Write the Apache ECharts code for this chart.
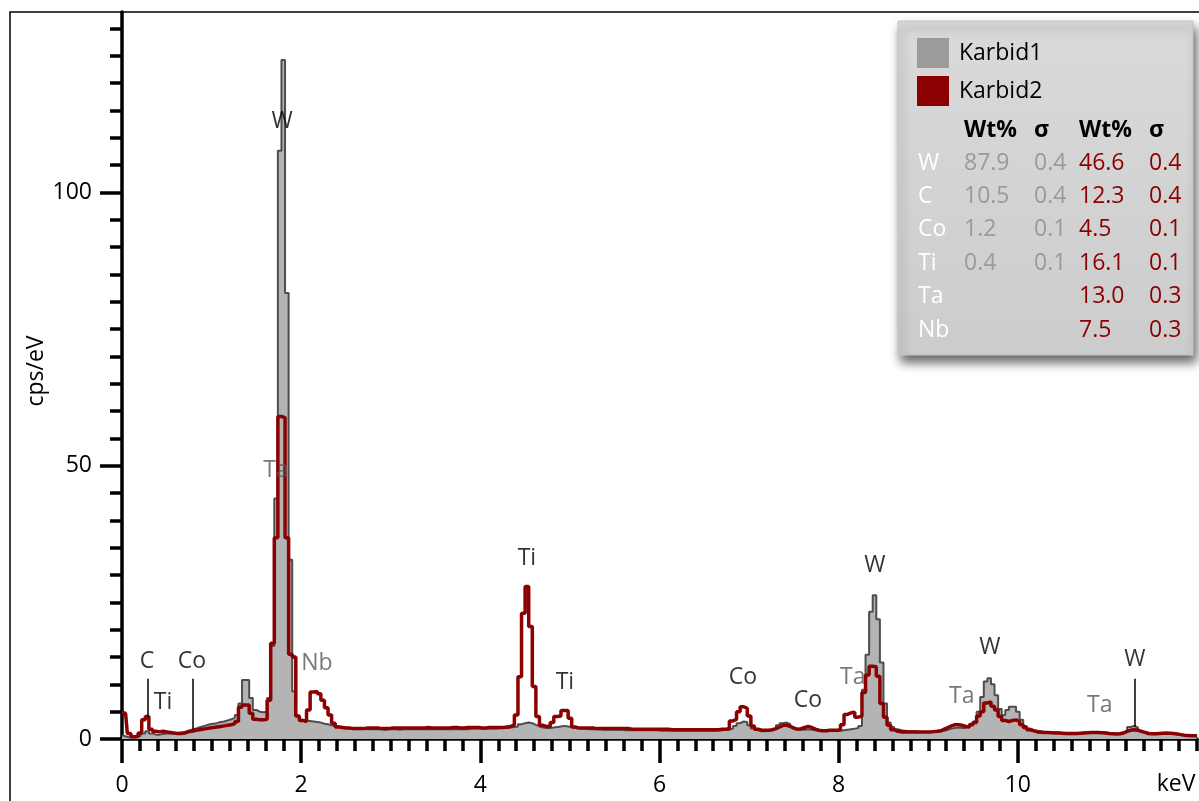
<!DOCTYPE html>
<html><head><meta charset="utf-8">
<script src="https://cdn.jsdelivr.net/npm/echarts@6/dist/echarts.min.js"></script>
<style>html,body{margin:0;padding:0;background:#fff}#c{width:1199px;height:801px}</style>
</head><body><div id="c"></div>
<script>
// EDS spectra, one value per 0.04 keV channel (0.00 ... 12.00 keV), cps/eV
const karbid1 = [
0.7,0.5,0.3,0.3,0.3,0.5,1.0,1.4,1.0,0.8,
0.8,0.9,1.0,1.0,1.0,1.1,1.2,1.3,1.5,1.7,
1.9,2.1,2.3,2.5,2.7,2.8,2.9,3.1,3.2,3.4,
3.6,3.9,4.4,6.5,10.8,10.8,7.5,5.3,5.0,4.9,
5.0,7.5,17.0,44.0,107.6,124.2,81.6,32.8,8.7,4.1,
3.5,3.4,3.3,3.2,3.1,3.0,2.8,2.7,2.5,2.4,
2.3,2.2,2.1,2.0,2.0,1.9,1.9,1.9,1.8,1.8,
1.8,1.8,1.8,1.7,1.8,1.8,1.8,1.7,1.8,1.8,
1.8,1.8,1.8,1.8,1.8,1.8,1.8,1.8,1.8,1.8,
1.8,1.8,1.8,1.8,1.8,1.8,1.8,1.9,1.9,1.9,
1.9,1.9,1.9,1.9,1.9,2.0,2.0,2.0,2.1,2.2,
2.3,2.7,2.9,3.0,2.9,2.6,2.3,2.1,2.0,2.0,
2.1,2.2,2.3,2.4,2.3,2.2,2.0,2.0,1.9,1.9,
1.8,1.8,1.8,1.8,1.7,1.7,1.7,1.7,1.7,1.7,
1.6,1.6,1.6,1.6,1.6,1.6,1.6,1.6,1.6,1.6,
1.5,1.5,1.5,1.5,1.5,1.5,1.5,1.5,1.5,1.5,
1.5,1.5,1.5,1.5,1.5,1.5,1.6,1.6,1.7,1.7,
1.9,2.4,2.9,3.2,3.1,2.5,1.9,1.6,1.4,1.4,
1.5,1.7,2.0,2.5,2.9,3.0,2.7,2.2,1.8,1.7,
1.7,1.8,1.7,1.6,1.5,1.5,1.5,1.5,1.5,1.5,
1.5,1.6,1.7,1.8,1.9,2.0,2.4,9.0,15.4,23.3,
26.3,21.9,14.0,6.5,3.0,2.2,1.8,1.6,1.5,1.4,
1.4,1.4,1.3,1.3,1.3,1.3,1.3,1.4,1.4,1.5,
1.7,1.9,2.0,2.1,2.0,2.0,2.4,2.8,3.2,5.0,
7.7,10.5,11.1,10.0,8.0,5.5,4.4,5.3,5.9,5.9,
5.0,3.5,2.4,1.9,1.6,1.5,1.4,1.3,1.3,1.2,
1.2,1.2,1.1,1.1,1.1,1.1,1.1,1.1,1.2,1.2,
1.2,1.3,1.3,1.2,1.2,1.1,1.0,1.0,1.0,1.2,
1.5,2.2,2.4,2.1,1.5,1.2,1.1,1.0,1.0,1.0,
1.1,1.1,1.1,1.0,0.9,0.8,0.7,0.7,0.6,0.6,
0.6
];
const karbid2 = [
4.9,4.7,1.0,0.4,0.5,1.1,3.5,4.1,1.8,1.4,
1.3,1.4,1.3,1.2,1.1,1.0,1.0,1.1,1.3,1.4,
1.6,1.7,1.8,1.9,2.0,2.1,2.2,2.3,2.4,2.5,
2.6,2.8,3.2,5.8,6.2,6.2,4.7,3.6,3.5,3.5,
3.6,7.1,17.5,36.8,59.0,58.8,36.8,15.5,15.0,4.2,
3.4,3.2,5.3,8.6,8.7,8.3,7.1,5.7,4.4,2.9,
2.2,2.1,2.0,2.0,1.9,1.9,1.9,1.9,2.0,2.0,
2.0,2.0,1.9,1.9,1.9,2.0,2.0,2.0,2.0,2.0,
2.0,2.0,2.0,2.0,2.0,2.1,2.0,2.0,2.0,2.0,
2.0,2.0,2.1,2.1,2.0,2.0,2.1,2.1,2.1,2.1,
2.0,2.0,2.1,2.1,2.1,2.1,2.1,2.2,2.3,2.6,
4.4,11.4,23.0,27.9,20.6,9.6,4.1,2.5,2.3,2.3,
3.0,4.1,4.2,5.2,5.2,3.8,2.2,2.0,2.0,2.0,
2.0,2.0,1.9,1.9,1.9,1.9,1.9,1.9,1.9,1.9,
1.9,1.9,1.8,1.8,1.8,1.8,1.8,1.8,1.8,1.8,
1.8,1.8,1.8,1.7,1.7,1.7,1.7,1.7,1.7,1.7,
1.7,1.7,1.7,1.7,1.7,1.7,1.7,1.8,1.8,1.9,
3.3,3.6,5.0,5.9,5.6,4.2,2.4,1.8,1.6,1.6,
1.6,1.7,1.9,2.2,2.5,2.5,2.3,2.0,1.8,1.9,
2.1,2.3,2.1,1.8,1.6,1.5,1.5,1.6,1.6,1.6,
1.7,2.6,4.5,4.8,4.9,4.0,4.2,8.5,11.7,13.3,
13.2,11.5,6.5,4.0,2.5,1.7,1.4,1.3,1.3,1.3,
1.3,1.3,1.3,1.3,1.3,1.3,1.35,1.4,1.5,1.8,
2.1,2.4,2.6,2.6,2.5,2.3,2.2,2.6,3.0,4.2,
5.0,6.6,6.8,6.0,5.3,4.1,3.4,3.2,3.4,3.5,
3.2,2.6,2.1,1.7,1.5,1.3,1.25,1.2,1.2,1.15,
1.1,1.1,1.05,1.0,1.0,1.0,1.0,1.05,1.1,1.15,
1.2,1.2,1.2,1.15,1.1,1.0,0.95,0.9,0.95,1.1,
1.4,1.6,1.7,1.6,1.4,1.2,1.0,0.95,0.95,1.0,
1.05,1.1,1.05,1.0,0.9,0.8,0.7,0.65,0.6,0.6,
0.55
];
const channelStep = 0.04;               // keV per channel
const xMajorTicks = [0, 2, 4, 6, 8, 10];
const yMajorTicks = [0, 50, 100];
const xMinorStep = 0.2, xMax = 12;
const yMinorStep = 5, yMinorTop = 130, yMax = 133;

// quantification table
const elements = ['W', 'C', 'Co', 'Ti', 'Ta', 'Nb'];
const wt1  = ['87.9', '10.5', '1.2', '0.4', '', ''];
const sig1 = ['0.4', '0.4', '0.1', '0.1', '', ''];
const wt2  = ['46.6', '12.3', '4.5', '16.1', '13.0', '7.5'];
const sig2 = ['0.4', '0.4', '0.1', '0.1', '0.3', '0.3'];

// peak annotations: [label, energy keV, height cps/eV, kind]
const peakLabels = [
  ['W', 1.786, 112.9, 'main'], ['Ta', 1.719, 49.2, 'other'], ['Nb', 2.176, 13.9, 'other'],
  ['C', 0.279, 14.1, 'main'], ['Ti', 0.458, 6.6, 'main'], ['Co', 0.781, 14.1, 'main'],
  ['Ti', 4.52, 33.1, 'main'], ['Ti', 4.944, 10.4, 'main'], ['Co', 6.93, 11.2, 'main'],
  ['Co', 7.656, 7.1, 'main'], ['Ta', 8.158, 11.3, 'other'], ['W', 8.404, 31.8, 'main'],
  ['Ta', 9.375, 7.7, 'other'], ['W', 9.688, 16.7, 'main'], ['Ta', 10.915, 6.2, 'other'],
  ['W', 11.306, 14.5, 'main']
];
// marker sticks: [energy keV, bottom, top]
const peakSticks = [[0.282, 4.0, 11.0], [0.785, 1.8, 11.0], [11.306, 2.2, 11.0]];

const FONT = '"Open Sans", "Noto Sans", sans-serif';
const FS = 23;
const energies = karbid1.map((_, i) => +(i * channelStep).toFixed(2));
const xMinor = Array.from({length: Math.round(xMax / xMinorStep) + 1}, (_, i) => +(i * xMinorStep).toFixed(1));
const yMinor = Array.from({length: yMinorTop / yMinorStep + 1}, (_, i) => i * yMinorStep);

const chart = echarts.init(document.getElementById('c'), null, {renderer: 'canvas'});

const tickStyle = {color: '#000', width: 3.5};
const graphics = [];
graphics.push({type: 'rect', z: 0, silent: true,
  shape: {x: 10, y: 12, width: 1400, height: 1000},
  style: {fill: 'none', stroke: '#000', lineWidth: 1.5}});
graphics.push({type: 'rect', z: 3, silent: true,
  shape: {x: 898, y: 21, width: 295, height: 334},
  style: {
    fill: new echarts.graphic.LinearGradient(0, 0, 0, 1, [{offset: 0, color: '#dadada'}, {offset: 1, color: '#cccccc'}]),
    stroke: '#c4c4c4', lineWidth: 1,
    shadowBlur: 10, shadowOffsetX: 3, shadowOffsetY: 7, shadowColor: 'rgba(0,0,0,0.6)'
  }});
const colX = [918, 964, 1034, 1079, 1149];
const headerY = 130, rowY0 = 163, rowDy = 33.4;
const txt = (x, y, s, color, weight) => ({type: 'text', z: 6, silent: true, x, y,
  style: {text: s, fill: color, font: (weight || 'normal') + ' ' + FS + 'px ' + FONT, textAlign: 'left', textVerticalAlign: 'middle'}});
graphics.push(txt(colX[1], headerY, 'Wt%', '#000', 'bold'));
graphics.push(txt(colX[2], headerY, 'σ', '#000', 'bold'));
graphics.push(txt(colX[3], headerY, 'Wt%', '#000', 'bold'));
graphics.push(txt(colX[4], headerY, 'σ', '#000', 'bold'));
elements.forEach((el, r) => {
  const y = rowY0 + r * rowDy;
  graphics.push(txt(colX[0], y, el, '#ffffff'));
  if (wt1[r]) graphics.push(txt(colX[1], y, wt1[r], '#9a9a9a'));
  if (sig1[r]) graphics.push(txt(colX[2], y, sig1[r], '#9a9a9a'));
  graphics.push(txt(colX[3], y, wt2[r], '#8b0000'));
  graphics.push(txt(colX[4], y, sig2[r], '#8b0000'));
});
graphics.push({type: 'text', z: 6, silent: true, x: 1176, y: 784,
  style: {text: 'keV', fill: '#000', font: FS + 'px ' + FONT, textAlign: 'center', textVerticalAlign: 'middle'}});
graphics.push({type: 'text', z: 6, silent: true, x: 36, y: 371, rotation: Math.PI / 2,
  style: {text: 'cps/eV', fill: '#000', font: FS + 'px ' + FONT, textAlign: 'center', textVerticalAlign: 'middle'}});

const option = {
  animation: false,
  backgroundColor: '#fff',
  grid: {left: 122, top: 12, right: 2, bottom: 62, containLabel: false},
  xAxis: [
    {type: 'value', min: 0, max: xMax, position: 'bottom',
      axisLine: {show: true, lineStyle: {color: '#000', width: 3.5}},
      axisTick: {show: true, customValues: xMinor, length: 12, lineStyle: tickStyle},
      axisLabel: {show: false}, splitLine: {show: false}},
    {type: 'value', min: 0, max: xMax, position: 'bottom',
      axisLine: {show: false},
      axisTick: {show: true, customValues: xMajorTicks, length: 24, lineStyle: tickStyle},
      axisLabel: {show: true, customValues: xMajorTicks, margin: 35, fontSize: FS, color: '#000', fontFamily: FONT},
      splitLine: {show: false}}
  ],
  yAxis: [
    {type: 'value', min: 0, max: yMax, position: 'left', offset: 2,
      axisLine: {show: true, lineStyle: {color: '#000', width: 3.5}},
      axisTick: {show: true, customValues: yMinor, length: 12, lineStyle: tickStyle},
      axisLabel: {show: false}, splitLine: {show: false}},
    {type: 'value', min: 0, max: yMax, position: 'left', offset: 2,
      axisLine: {show: false},
      axisTick: {show: true, customValues: yMajorTicks, length: 22, lineStyle: tickStyle},
      axisLabel: {show: true, customValues: yMajorTicks, margin: 28, fontSize: FS, color: '#000', fontFamily: FONT},
      splitLine: {show: false}}
  ],
  legend: {
    orient: 'vertical', left: 912, top: 33, itemWidth: 32, itemHeight: 30, itemGap: 8, icon: 'rect', z: 5,
    selectedMode: false,
    textStyle: {fontSize: FS, color: '#000', fontFamily: FONT, padding: [0, 0, 0, 5]},
    itemStyle: {borderWidth: 0},
    data: [{name: 'Karbid1', itemStyle: {color: '#9b9b9b'}}, {name: 'Karbid2', itemStyle: {color: '#8b0000'}}]
  },
  graphic: graphics,
  series: [
    {name: 'Karbid1', type: 'line', step: 'middle', xAxisIndex: 0, yAxisIndex: 0, z: 2,
      data: energies.map((e, i) => [e, karbid1[i]]), symbol: 'none', silent: true,
      itemStyle: {color: '#9b9b9b'},
      lineStyle: {color: '#4d4d4d', width: 2},
      areaStyle: {color: '#b4b4b4', opacity: 1}},
    {name: 'Karbid2', type: 'line', step: 'middle', xAxisIndex: 0, yAxisIndex: 0, z: 3,
      data: energies.map((e, i) => [e, karbid2[i]]), symbol: 'none', silent: true,
      itemStyle: {color: '#8b0000'},
      lineStyle: {color: '#8b0000', width: 3.5}},
    {name: 'labels', type: 'scatter', xAxisIndex: 0, yAxisIndex: 0, z: 6, symbolSize: 0, silent: true,
      data: peakLabels.map(p => ({value: [p[1], p[2]], name: p[0],
        label: {color: p[3] === 'main' ? '#000' : '#555'}})),
      label: {show: true, position: 'inside', formatter: '{b}', fontSize: FS, fontFamily: FONT},
      markLine: {silent: true, symbol: ['none', 'none'], label: {show: false},
        lineStyle: {color: '#000', width: 1.5, type: 'solid'},
        data: peakSticks.map(s => [{coord: [s[0], s[2]]}, {coord: [s[0], s[1]]}])}}
  ]
};
chart.setOption(option);
</script>
</body></html>
